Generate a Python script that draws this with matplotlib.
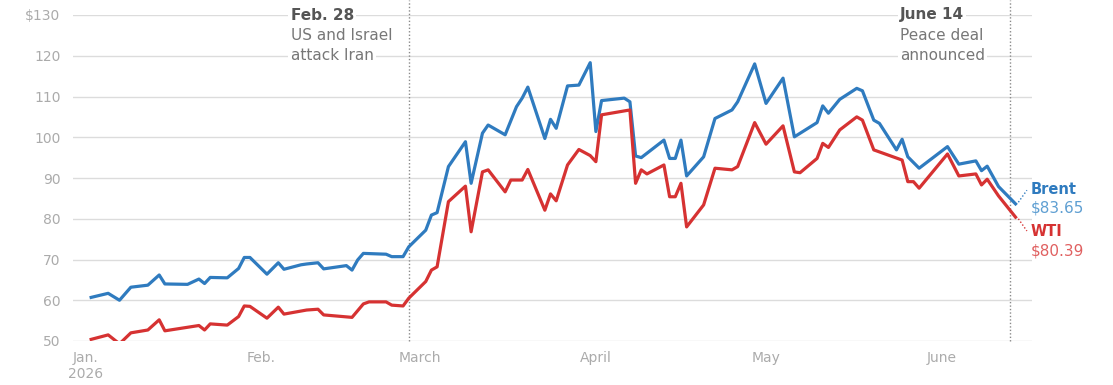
import numpy as np
import pandas as pd
import matplotlib
matplotlib.use('Agg')
import matplotlib.pyplot as plt

plt.rcParams['font.family'] = ['DejaVu Sans']

# daily-ish vertices (2026)
brent_dates = ['01-03', '01-06', '01-08', '01-10', '01-13', '01-15', '01-16', '01-20',
               '01-22', '01-23', '01-24', '01-27', '01-29', '01-30', '01-31', '02-03',
               '02-05', '02-06', '02-09', '02-10', '02-12', '02-13', '02-17', '02-18',
               '02-19', '02-20', '02-24', '02-25', '02-27', '02-28', '03-03', '03-04',
               '03-05', '03-07', '03-10', '03-11', '03-13', '03-14', '03-17', '03-19',
               '03-20', '03-21', '03-24', '03-25', '03-26', '03-28', '03-30', '04-01',
               '04-02', '04-03', '04-07', '04-08', '04-09', '04-10', '04-14', '04-15',
               '04-16', '04-17', '04-18', '04-21', '04-23', '04-26', '04-27', '04-30',
               '05-02', '05-05', '05-07', '05-11', '05-12', '05-13', '05-15', '05-18',
               '05-19', '05-21', '05-22', '05-25', '05-26', '05-27', '05-29', '06-03',
               '06-05', '06-08', '06-09', '06-10', '06-12', '06-15']
brent = [60.7, 61.7, 60.0, 63.2, 63.7, 66.2, 64.0, 63.9,
         65.2, 64.1, 65.6, 65.5, 67.8, 70.5, 70.5, 66.4,
         69.2, 67.6, 68.7, 68.9, 69.2, 67.7, 68.5, 67.4,
         69.9, 71.5, 71.3, 70.7, 70.7, 73.1, 77.2, 80.9,
         81.5, 92.8, 98.9, 88.7, 101.0, 103.0, 100.6, 107.5,
         109.6, 112.3, 99.7, 104.4, 102.2, 112.6, 112.8, 118.3,
         101.4, 109.0, 109.6, 108.7, 95.4, 95.0, 99.3, 94.8,
         94.8, 99.3, 90.5, 95.2, 104.6, 106.7, 108.7, 118.0,
         108.3, 114.5, 100.1, 103.6, 107.7, 105.9, 109.3, 112.0,
         111.4, 104.2, 103.4, 96.9, 99.5, 95.2, 92.4, 97.7,
         93.4, 94.2, 91.8, 92.9, 87.9, 83.65]

wti_dates = ['01-03', '01-06', '01-08', '01-10', '01-13', '01-15', '01-16', '01-22',
             '01-23', '01-24', '01-27', '01-29', '01-30', '01-31', '02-03', '02-05',
             '02-06', '02-10', '02-12', '02-13', '02-18', '02-20', '02-21', '02-24',
             '02-25', '02-27', '02-28', '03-03', '03-04', '03-05', '03-07', '03-10',
             '03-11', '03-13', '03-14', '03-17', '03-18', '03-20', '03-21', '03-24',
             '03-25', '03-26', '03-28', '03-30', '04-01', '04-02', '04-03', '04-08',
             '04-09', '04-10', '04-11', '04-14', '04-15', '04-16', '04-17', '04-18',
             '04-21', '04-23', '04-26', '04-27', '04-30', '05-02', '05-05', '05-07',
             '05-08', '05-11', '05-12', '05-13', '05-15', '05-18', '05-19', '05-21',
             '05-22', '05-26', '05-27', '05-28', '05-29', '06-03', '06-05', '06-08',
             '06-09', '06-10', '06-12', '06-15']
wti = [50.4, 51.5, 49.3, 52.0, 52.7, 55.2, 52.5, 53.8,
       52.7, 54.2, 53.9, 56.0, 58.6, 58.5, 55.6, 58.3,
       56.6, 57.6, 57.8, 56.4, 55.8, 59.1, 59.6, 59.6,
       58.8, 58.6, 60.5, 64.6, 67.4, 68.2, 84.2, 88.0,
       76.8, 91.5, 92.0, 86.6, 89.5, 89.5, 92.1, 82.1,
       86.1, 84.4, 93.2, 97.0, 95.5, 94.0, 105.5, 106.7,
       88.7, 92.0, 91.0, 93.2, 85.4, 85.4, 88.7, 78.0,
       83.4, 92.4, 92.0, 92.8, 103.6, 98.3, 102.8, 91.5,
       91.3, 94.8, 98.5, 97.5, 101.8, 105.0, 104.2, 96.9,
       96.4, 94.4, 89.1, 89.1, 87.5, 95.9, 90.5, 91.0,
       88.3, 89.7, 85.6, 80.39]

month_ticks = ['01-01', '02-01', '03-01', '04-01', '05-01', '06-01']
month_labels = ['Jan.\n2026', 'Feb.', 'March', 'April', 'May', 'June']
y_ticks = [50, 60, 70, 80, 90, 100, 110, 120, 130]
y_labels = ['50', '60', '70', '80', '90', '100', '110', '120', '$130']

events = [('02-28', 'Feb. 28', ['US and Israel', 'attack Iran']),
          ('06-14', 'June 14', ['Peace deal', 'announced'])]

def d(s):
    return pd.Timestamp('2026-' + s)

blue = '#2f7bbf'
red = '#d63232'
tick_col = '#ababab'

fig = plt.figure(figsize=(11.13, 3.85), dpi=100)
ax = fig.add_axes([73 / 1113, 1 - 341 / 385, (1032 - 73) / 1113, (341 - 15) / 385])

ax.plot([d(s) for s in brent_dates], brent, color=blue, lw=2.3, solid_joinstyle='round', zorder=4)
ax.plot([d(s) for s in wti_dates], wti, color=red, lw=2.3, solid_joinstyle='round', zorder=4)

ax.set_ylim(50, 130)
ax.set_xlim(d('01-01') - pd.Timedelta(days=1.2), d('01-01') + pd.Timedelta(days=167.9))
ax.set_yticks(y_ticks)
ax.set_yticklabels(y_labels)
ax.set_xticks([d(s) + pd.Timedelta(days=1.0) for s in month_ticks])
ax.set_xticklabels(month_labels)
ax.tick_params(axis='both', length=0, labelsize=10, labelcolor=tick_col)
ax.tick_params(axis='y', pad=9)
ax.tick_params(axis='x', pad=7)
for lab in ax.get_xticklabels():
    lab.set_linespacing(1.2)
ax.grid(axis='y', color='#dcdcdc', lw=1)
ax.set_axisbelow(True)
for sp in ax.spines.values():
    sp.set_visible(False)

# event markers and notes
for ds, head, lines in events:
    x = d(ds)
    off = -118 if ds == '02-28' else -110
    ax.plot([x, x], [50, 133.7], color='#8a8a8a', lw=1, ls=(0, (1, 1.5)), clip_on=False, zorder=3)
    ax.annotate(head, xy=(x, 130), xytext=(off, 0),
                textcoords='offset pixels', ha='left', va='center', fontsize=11,
                fontweight='bold', color='#555555', zorder=5,
                bbox=dict(boxstyle='square,pad=0.15', fc='white', ec='none'))
    for i, t in enumerate(lines):
        ax.annotate(t, xy=(x, 130), xytext=(off, -20 * (i + 1)),
                    textcoords='offset pixels', ha='left', va='center', fontsize=11,
                    color='#777777', zorder=5,
                    bbox=dict(boxstyle='square,pad=0.15', fc='white', ec='none'))

# end labels
end = d(brent_dates[-1])
ax.plot([end + pd.Timedelta(days=0.5), end + pd.Timedelta(days=2)], [brent[-1] + 0.4, 87.0],
        color=blue, lw=1, ls=(0, (1, 1.5)), clip_on=False)
ax.plot([end + pd.Timedelta(days=0.5), end + pd.Timedelta(days=2)], [wti[-1] - 0.4, 77.0],
        color=red, lw=1, ls=(0, (1, 1.5)), clip_on=False)
tx = end + pd.Timedelta(days=2.6)
ax.text(tx, 87.2, 'Brent', color=blue, fontsize=10.5, fontweight='bold', va='center', ha='left', clip_on=False)
ax.text(tx, 82.6, '$%.2f' % brent[-1], color='#5f9fd2', fontsize=11, va='center', ha='left', clip_on=False)
ax.text(tx, 76.8, 'WTI', color=red, fontsize=10.5, fontweight='bold', va='center', ha='left', clip_on=False)
ax.text(tx, 72.1, '$%.2f' % wti[-1], color='#e06060', fontsize=11, va='center', ha='left', clip_on=False)

fig.savefig('out.png', dpi=100, facecolor='white')
